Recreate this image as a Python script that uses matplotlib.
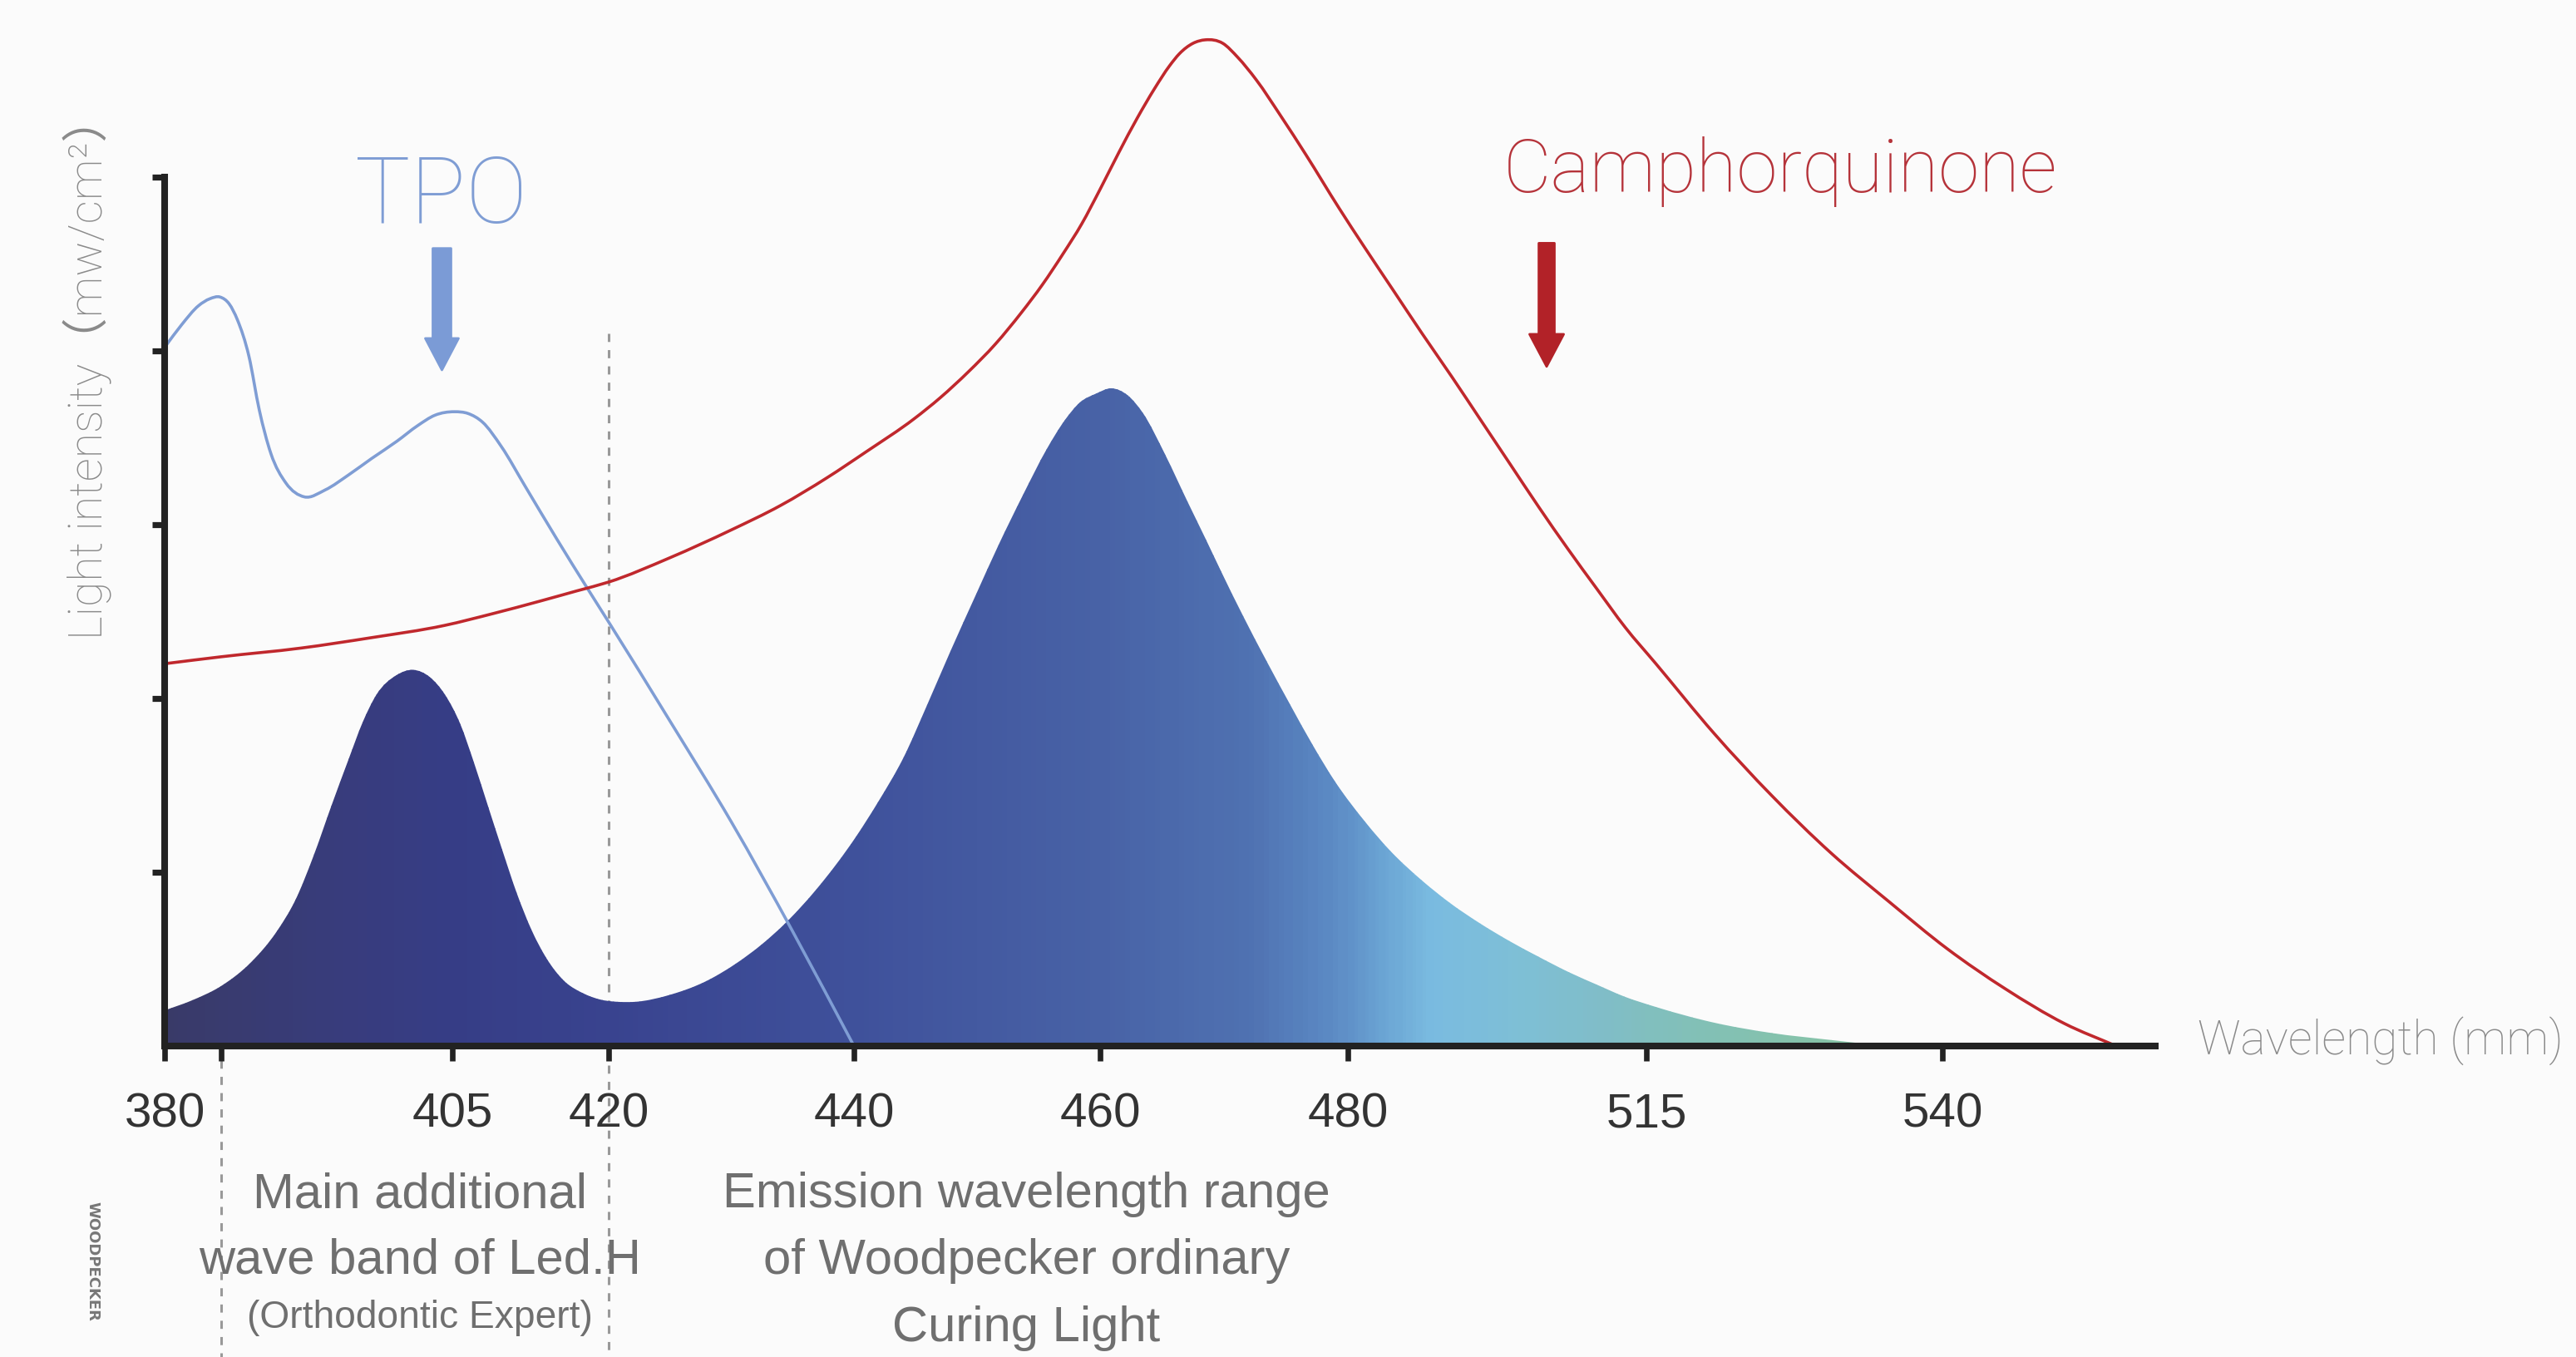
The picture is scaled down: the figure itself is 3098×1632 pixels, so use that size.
import numpy as np
import matplotlib
matplotlib.use("Agg")
import matplotlib.pyplot as plt
from matplotlib.colors import LinearSegmentedColormap, Normalize
from matplotlib.patches import FancyArrowPatch, ArrowStyle, PathPatch
from matplotlib.collections import LineCollection
from matplotlib.transforms import IdentityTransform
from matplotlib.path import Path
from matplotlib.ticker import NullLocator


# Axis layout of the drawing (the wavelength axis is not linear)
axis_nm = [380, 385, 405, 420, 440, 460, 480, 515, 540, 558]
axis_pos = [0, 68, 346, 534, 829, 1125, 1423, 1782, 2138, 2394]

tick_nm = [380, 385, 405, 420, 440, 460, 480, 515, 540]
tick_labels = ["380", "", "405", "420", "440", "460", "480", "515", "540"]

# Emission of the curing light (filled area)
emis_nm = [380, 382.5, 385, 387.5, 389.9, 391.5, 393.1, 394.6, 396.1, 397.3,
           398.5, 400.2, 401.6, 403.0, 404.3, 405.7, 407.0, 408.4, 409.7, 411.1,
           412.5, 414.1, 415.7, 417.5, 419.4, 420.7, 422.2, 425, 428, 430.4,
           432.5, 434.4, 437, 440.2, 442, 444.1, 446, 447.9, 450, 451.8,
           453.8, 455.7, 457.2, 458.4, 459.7, 460.9, 462.2, 463.4, 465.2, 467.0,
           468.5, 469.7, 471.5, 473.4, 475.3, 477.1, 478.9, 481.9, 484.9, 488.6,
           491.9, 495.5, 498.9, 502.3, 505.9, 509.1, 512.4, 515.8, 520.7, 525.6,
           530.6, 534.6]
emis_val = [0.20, 0.26, 0.34, 0.47, 0.66, 0.84, 1.10, 1.38, 1.65, 1.86,
            2.02, 2.13, 2.16, 2.12, 2.02, 1.85, 1.63, 1.37, 1.13, 0.88,
            0.67, 0.49, 0.37, 0.30, 0.26, 0.25, 0.25, 0.29, 0.37, 0.47,
            0.58, 0.70, 0.90, 1.20, 1.40, 1.66, 1.96, 2.27, 2.60, 2.88,
            3.17, 3.43, 3.60, 3.70, 3.75, 3.78, 3.74, 3.64, 3.40, 3.13,
            2.91, 2.73, 2.47, 2.21, 1.96, 1.73, 1.52, 1.29, 1.12, 0.95,
            0.82, 0.70, 0.60, 0.51, 0.42, 0.35, 0.28, 0.22, 0.13, 0.07,
            0.03, 0.0]

# Camphorquinone absorption
red_nm = [380, 385, 391.9, 398, 404.3, 409, 413.4, 417, 420, 425,
          430, 434, 437.8, 441, 444.9, 447, 449.3, 451.5, 453.6, 455.3,
          457, 458.5, 460, 461.5, 463, 464.4, 465.6, 466.4, 467.5, 468.5,
          469.9, 471.1, 472.6, 474.6, 476.6, 479.3, 481.9, 485.3, 488.7, 492.2,
          495.6, 499, 502.4, 505.8, 509.2, 512.5, 515.8, 520.7, 525.6, 530.6,
          535.5, 540.4, 545.3, 550.3, 554.7]
red_val = [2.20, 2.24, 2.29, 2.35, 2.42, 2.49, 2.56, 2.62, 2.67, 2.81,
           2.97, 3.11, 3.27, 3.42, 3.61, 3.73, 3.88, 4.04, 4.22, 4.38,
           4.56, 4.73, 4.93, 5.14, 5.34, 5.51, 5.64, 5.71, 5.77, 5.79,
           5.77, 5.69, 5.56, 5.35, 5.13, 4.82, 4.60, 4.35, 4.10, 3.85,
           3.60, 3.35, 3.10, 2.86, 2.63, 2.41, 2.20, 1.80, 1.44, 1.11,
           0.83, 0.56, 0.33, 0.13, 0.0]

# TPO absorption
tpo_nm = [380, 381.5, 383, 384, 384.9, 385.7, 386.4, 387.4, 388.3, 389.3,
          390.6, 392.2, 394, 396.1, 398, 400.2, 402, 403.5, 405.2, 406.5,
          407.9, 409.7, 412, 415, 418, 420, 425, 430, 435, 440]
tpo_val = [4.02, 4.15, 4.26, 4.30, 4.31, 4.27, 4.18, 3.97, 3.66, 3.41,
           3.24, 3.16, 3.20, 3.29, 3.38, 3.48, 3.57, 3.63, 3.65, 3.64,
           3.59, 3.45, 3.22, 2.92, 2.63, 2.44, 1.87, 1.29, 0.66, 0.0]

# colour stops of the emission gradient
grad_nm = [380, 395, 405, 420, 440, 460, 472, 478, 484, 490, 500, 510, 520, 530, 540]
grad_col = ["#393a68", "#383c7c", "#363d86", "#39438f", "#3f519b", "#4862a6",
            "#4f71b1", "#5a87c2", "#6aa3d3", "#7abbe0", "#7ebfd6", "#80bdc8",
            "#82c0b6", "#86c3a8", "#8ac6a0"]

bg = "#fbfbfb"
tpo_col = "#7f9dd4"
red_col = "#c0282d"
light = ["Roboto", "Noto Sans CJK SC", "DejaVu Sans"]

fig = plt.figure(figsize=(15.49, 8.165), dpi=200, facecolor=bg)
ax = fig.add_axes([0.0639, 0.2290, 0.7728, 0.7705])
ax.set_facecolor("none")


def fwd(x):
    return np.interp(x, axis_nm, axis_pos)


def inv(p):
    return np.interp(p, axis_pos, axis_nm)


ax.set_xscale("function", functions=(fwd, inv))
ax.set_xlim(380, 558)
ax.set_ylim(0, 6.02)


def smooth_path(xs, ys):
    # smooth curve through the read points (cubic bezier segments on the axis scale)
    x = fwd(np.asarray(xs, float))
    y = np.asarray(ys, float)
    m = np.gradient(y, x)
    verts = [[x[0], y[0]]]
    codes = [Path.MOVETO]
    for i in range(len(x) - 1):
        h = (x[i + 1] - x[i]) / 3
        verts += [[x[i] + h, y[i] + m[i] * h],
                  [x[i + 1] - h, y[i + 1] - m[i + 1] * h],
                  [x[i + 1], y[i + 1]]]
        codes += [Path.CURVE4] * 3
    verts = np.array(verts)
    verts[:, 0] = inv(verts[:, 0])
    return verts, codes


# emission area with horizontal gradient
ev, ec = smooth_path(emis_nm, emis_val)
emis_top = Path(ev, ec)
emis_path = Path(np.vstack([ev, [[emis_nm[0], 0], [emis_nm[0], 0]]]),
                 ec + [Path.LINETO, Path.CLOSEPOLY])

stops = (np.array(grad_nm) - 380) / (540 - 380)
cmap = LinearSegmentedColormap.from_list("emis", list(zip(stops, grad_col)))
norm = Normalize(380, 540)
edges = np.linspace(380, 540, 401)
centers = (edges[:-1] + edges[1:]) / 2
mesh = ax.pcolormesh(edges, [0, 4], centers[np.newaxis, :], cmap=cmap,
                     norm=norm, shading="flat", zorder=2)
mesh.set_clip_path(emis_path, ax.transData)

# soft edge along the top of the area (the clip itself is not antialiased)
disp = ax.transData.transform_path(emis_top)
pts = np.vstack(disp.to_polygons(closed_only=False))
segs = np.stack([pts[:-1], pts[1:]], axis=1)
mid_nm = ax.transData.inverted().transform(segs.mean(axis=1))[:, 0]
ax.add_collection(LineCollection(segs, colors=cmap(norm(mid_nm)), linewidths=0.7,
                                 transform=IdentityTransform(), zorder=2,
                                 capstyle="round"))

tv, tc = smooth_path(tpo_nm, tpo_val)
ax.add_patch(PathPatch(Path(tv, tc), fill=False, edgecolor=tpo_col, lw=1.3, zorder=3))
rv, rc = smooth_path(red_nm, red_val)
ax.add_patch(PathPatch(Path(rv, rc), fill=False, edgecolor=red_col, lw=1.3, zorder=3))

# dotted guides
ax.plot([385, 385], [-0.08, -1.8], color="#999999", lw=1.1,
        linestyle=(0, (3.2, 3.2)), clip_on=False, zorder=1)
ax.plot([420, 420], [4.10, -1.8], color="#999999", lw=1.1,
        linestyle=(0, (3.2, 3.2)), clip_on=False, zorder=1)

# spines & ticks
for s in ["top", "right"]:
    ax.spines[s].set_visible(False)
for s in ["left", "bottom"]:
    ax.spines[s].set_linewidth(2.9)
    ax.spines[s].set_color("#222222")
    ax.spines[s].set_zorder(4)
ax.spines["left"].set_bounds(0, 5)

ax.set_yticks([1, 2, 3, 4, 5])
ax.set_yticklabels([])
ax.tick_params(axis="y", direction="out", length=5.5, width=2.6, color="#222222")
ax.set_xticks(tick_nm)
ax.set_xticklabels(tick_labels)
ax.xaxis.set_minor_locator(NullLocator())
ax.tick_params(axis="x", direction="out", length=6.5, width=2.4, color="#222222",
               pad=13, labelsize=21, labelcolor="#333333")
for t in ax.get_xticklabels():
    t.set_fontfamily("Liberation Sans")

# axis titles
ax.text(-0.0388, 3.91, "Light intensity（mw/cm²）", transform=ax.get_yaxis_transform(),
        rotation=90, ha="center", va="center", fontsize=20, color="#8a8a8a",
        family=light, fontweight="light")
ax.text(1.0213, -0.04, "Wavelength (mm)", transform=ax.get_yaxis_transform(),
        ha="left", va="baseline", fontsize=20.5, color="#8a8a8a",
        family=light, fontweight="light")

# curve labels and arrows
ax.text(404.0, 4.74, "TPO", ha="center", va="baseline", fontsize=40,
        color=tpo_col, family=light, fontweight="light")
ax.text(526.3, 4.92, "Camphorquinone", ha="center", va="baseline", fontsize=32,
        color="#b5333a", family=light, fontweight="light")

ax.add_patch(FancyArrowPatch((404.1, 4.59), (404.1, 3.89),
                             arrowstyle=ArrowStyle.Simple(head_length=13.7, head_width=14.4,
                                                          tail_width=7.9),
                             mutation_scale=1, color="#7b9bd6", shrinkA=0, shrinkB=0,
                             zorder=5))
ax.add_patch(FancyArrowPatch((503.3, 4.62), (503.3, 3.91),
                             arrowstyle=ArrowStyle.Simple(head_length=14, head_width=14.8,
                                                          tail_width=6.8),
                             mutation_scale=1, color="#b22228", shrinkA=0, shrinkB=0,
                             zorder=5))

# notes under the axis
note = dict(ha="center", va="center", color="#6f6f6f", family="Liberation Sans",
            clip_on=False)
ax.text(402.2, -0.85, "Main additional", fontsize=21.5, **note)
ax.text(402.2, -1.23, "wave band of Led.H", fontsize=21.5, **note)
ax.text(402.2, -1.56, "(Orthodontic Expert)", fontsize=16.6, **note)
ax.text(454.0, -0.85, "Emission wavelength range", fontsize=21.5, **note)
ax.text(454.0, -1.23, "of Woodpecker ordinary", fontsize=21.5, **note)
ax.text(454.0, -1.62, "Curing Light", fontsize=21.5, **note)

# logo
fig.text(111 / 3098, 1 - 1517 / 1633, "WOODPECKER", rotation=-90, fontsize=6.5,
         color="#777777", fontweight="bold", ha="center", va="center")

fig.savefig("out.png", dpi=200, facecolor=bg)
